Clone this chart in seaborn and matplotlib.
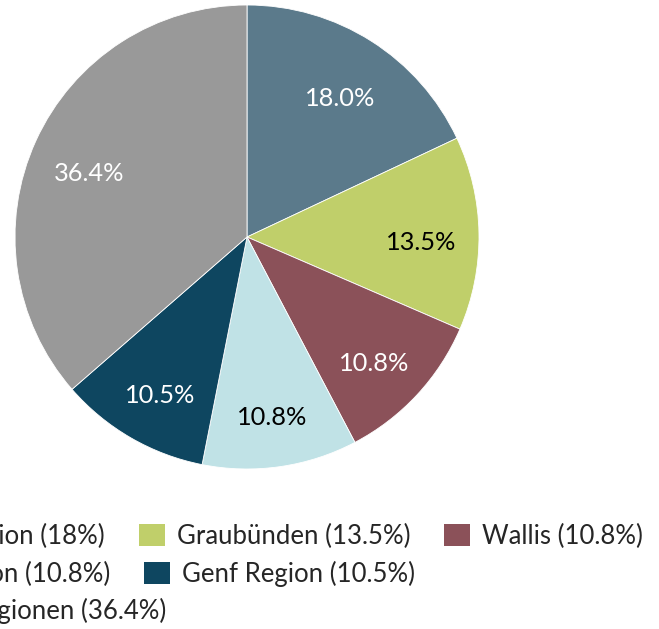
import matplotlib
matplotlib.use("Agg")
import matplotlib.pyplot as plt
import matplotlib.transforms as mtransforms
from matplotlib.patches import Patch
import seaborn as sns

sns.set_theme(style="white")
plt.rcParams['font.family'] = ['Lato', 'DejaVu Sans']

# data
regionen = ['Zürich Region', 'Graubünden', 'Wallis', 'Basel Region',
            'Genf Region', 'Andere Regionen']
anteile = [18.0, 13.5, 10.8, 10.8, 10.5, 36.4]
farben = ['#5b7a8b', '#c0cf6a', '#8b5159', '#c0e2e6', '#0e4660', '#999999']
label_farben = ['white', 'black', 'white', 'black', 'white', 'white']
legenden_zeilen = [[0, 1, 2], [3, 4], [5]]

W, H = 659, 629
fig = plt.figure(figsize=(W / 100, H / 100), dpi=100)

cx, cy, r = 247, 237, 232
ax = fig.add_axes([(cx - r) / W, (H - cy - r) / H, 2 * r / W, 2 * r / H])

palette = sns.color_palette(farben)
wedges, texts, autotexts = ax.pie(
    anteile, colors=palette, startangle=90, counterclock=False,
    autopct='%1.1f%%', pctdistance=0.75, radius=1,
    wedgeprops=dict(edgecolor='white', linewidth=0.6),
    textprops=dict(fontsize=18.3))
for t, c in zip(autotexts, label_farben):
    t.set_color(c)
    # labels sit a bit lower in the original
    t.set_transform(mtransforms.offset_copy(ax.transData, fig=fig, x=0, y=-6, units='points'))
ax.set_xlim(-1, 1)
ax.set_ylim(-1, 1)
ax.set_aspect('equal')
ax.axis('off')

# legend, laid out in rows like the original (right end, row centre in px)
zeilen_pos = [(643, 536), (415, 574), (166, 611)]
fs = 18.5
for idx, (xr, yc) in zip(legenden_zeilen, zeilen_pos):
    handles = [Patch(facecolor=farben[i], edgecolor='none') for i in idx]
    labels = [f"{regionen[i]} ({anteile[i]:g}%)" for i in idx]
    fig.legend(handles, labels, ncol=len(idx), loc='center right',
               bbox_to_anchor=(xr / W, 1 - yc / H), frameon=False,
               borderpad=0, borderaxespad=0, fontsize=fs,
               handlelength=1.01, handleheight=0.97, handletextpad=0.47,
               columnspacing=1.32)

fig.savefig("out.png", dpi=100)
plt.close(fig)
